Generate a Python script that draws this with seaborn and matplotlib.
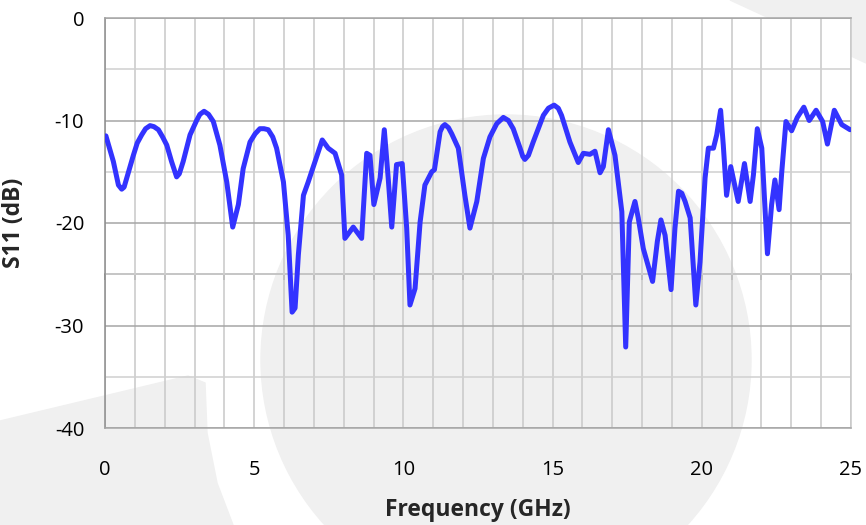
import seaborn as sns
import pandas as pd
import matplotlib.pyplot as plt
from matplotlib.patches import Ellipse, Polygon

# traced S11 curve
freq = [0.03, 0.28, 0.45, 0.56, 0.64, 0.73, 0.95, 1.08, 1.23, 1.36, 1.51, 1.64, 1.79, 1.93,
        2.07, 2.23, 2.40, 2.49, 2.62, 2.85, 3.07, 3.18, 3.32, 3.47, 3.63, 3.85, 4.08, 4.28,
        4.47, 4.63, 4.86, 5.03, 5.19, 5.33, 5.47, 5.62, 5.75, 5.98, 6.14, 6.27, 6.37,
        6.48, 6.65, 6.81, 7.04, 7.28, 7.48, 7.71, 7.93, 8.04, 8.32, 8.60, 8.77, 8.88, 9.01,
        9.22, 9.36, 9.49, 9.61, 9.77, 9.96, 10.11, 10.22, 10.39, 10.56, 10.72, 10.95, 11.04,
        11.23, 11.31, 11.39, 11.51, 11.62, 11.84, 12.06, 12.23, 12.46, 12.68, 12.90, 13.13,
        13.35, 13.52, 13.68, 13.91, 14.00, 14.07, 14.19, 14.35, 14.69, 14.86, 15.05, 15.19,
        15.30, 15.58, 15.86, 16.03, 16.25, 16.42, 16.59, 16.70,
        16.87, 17.09, 17.32, 17.45, 17.57, 17.76, 17.87, 18.04, 18.35, 18.51, 18.63, 18.77,
        18.97, 19.10, 19.22, 19.33, 19.44, 19.61, 19.80, 19.94, 20.11, 20.22, 20.39, 20.50,
        20.63, 20.72, 20.83, 20.97, 21.08, 21.22, 21.43, 21.62, 21.73, 21.86, 22.01, 22.20,
        22.34, 22.45, 22.59, 22.68, 22.82, 23.01, 23.20, 23.42, 23.60, 23.83, 24.05, 24.21,
        24.44, 24.69, 24.97]
s11 = [-11.5, -14.0, -16.3, -16.7, -16.5, -15.6, -13.4, -12.2, -11.4, -10.8, -10.5, -10.6, -10.9, -11.6,
       -12.4, -14.0, -15.5, -15.2, -14.0, -11.4, -10.0, -9.4, -9.1, -9.4, -10.1, -12.4, -16.0, -20.4,
       -18.2, -14.7, -12.1, -11.3, -10.8, -10.8, -10.9, -11.6, -12.7, -16.0, -21.2, -28.7, -28.3,
       -23.1, -17.3, -16.0, -14.0, -11.9, -12.7, -13.2, -15.3, -21.5, -20.4, -21.5, -13.2, -13.4, -18.2,
       -15.6, -10.9, -15.6, -20.4, -14.3, -14.2, -20.5, -28.0, -26.4, -19.9, -16.3, -15.0, -14.8,
       -11.1, -10.6, -10.4, -10.7, -11.3, -12.7, -17.3, -20.5, -17.9, -13.7, -11.6, -10.3,
       -9.7, -10.0, -10.8, -12.7, -13.5, -13.8, -13.4, -12.1, -9.5, -8.8, -8.5, -8.8,
       -9.5, -12.1, -14.1, -13.2, -13.3, -13.0, -15.1, -14.5,
       -10.9, -13.4, -18.9, -32.1, -19.9, -17.9, -19.5, -22.5, -25.7, -21.8, -19.7, -21.2,
       -26.5, -20.5, -16.9, -17.1, -17.9, -19.5, -28.0, -23.8, -15.6, -12.7, -12.7, -11.4,
       -9.0, -12.4, -17.3, -14.5, -16.0, -17.9, -14.2, -17.9, -15.3, -10.8, -12.7, -23.0,
       -18.2, -15.8, -18.7, -15.0, -10.1, -11.0, -9.7, -8.7, -10.0, -9.0, -10.1, -12.3,
       -9.0, -10.4, -10.9]

x_ticks = [0, 5, 10, 15, 20, 25]
y_ticks = [-40, -30, -20, -10, 0]

df = pd.DataFrame({'Frequency': freq, 'S11': s11})

sns.set_style('white')
plt.rcParams['font.family'] = ['Open Sans', 'DejaVu Sans']
plt.rcParams['axes.unicode_minus'] = False

W, H = 866, 525
fig = plt.figure(figsize=(W / 100, H / 100), dpi=100)

# light grey background decoration
bg = '#f0f0f0'
fig.add_artist(Ellipse((506 / W, 1 - 360 / H), 2 * 245 / W, 2 * 245 / H,
                       transform=fig.transFigure, color=bg, zorder=-2))
fig.add_artist(Polygon([(0, 1 - 421 / H), (188 / W, 1 - 376 / H), (205 / W, 1 - 383 / H),
                        (207 / W, 1 - 433 / H), (217 / W, 1 - 483 / H), (233 / W, 0), (0, 0)],
                       closed=True, transform=fig.transFigure, color=bg, zorder=-2))
fig.add_artist(Polygon([(730 / W, 1), (1, 1), (1, 1 - 63 / H), (851 / W, 1 - 56 / H),
                        (851 / W, 1 - 18 / H), (769 / W, 1 - 18 / H)],
                       closed=True, transform=fig.transFigure, color=bg, zorder=-2))

ax = fig.add_axes([105 / W, 1 - 428 / H, 746 / W, 410 / H])
ax.set_facecolor('none')

sns.lineplot(data=df, x='Frequency', y='S11', ax=ax, color='#3333ff', linewidth=3.6,
             solid_joinstyle='round', solid_capstyle='round', zorder=5)

ax.set_xlim(0, 25)
ax.set_ylim(-40, 0)
ax.set_xticks(x_ticks)
ax.set_xticks(range(26), minor=True)
ax.set_yticks(y_ticks)
ax.set_yticks(range(-40, 1, 5), minor=True)

ax.set_axisbelow(True)
ax.grid(axis='x', which='both', color='#c8c8c8', linewidth=1.1)
ax.grid(axis='y', which='minor', color='#d0d0d0', linewidth=1.1)
ax.grid(axis='y', which='major', color='#a6a6a6', linewidth=1.1)

ax.tick_params(axis='x', which='both', length=0, pad=23, labelsize=14.5)
ax.tick_params(axis='y', which='both', length=6, width=1.1, color='#8c8c8c',
               direction='out', pad=9, labelsize=14.5)
for lbl in ax.get_yticklabels() + ax.get_xticklabels():
    lbl.set_color('#000000')

for side in ['top', 'bottom']:
    ax.spines[side].set_color('#a6a6a6')
    ax.spines[side].set_linewidth(1.1)
ax.spines['left'].set_color('#8c8c8c')
ax.spines['left'].set_linewidth(1.1)
ax.spines['right'].set_color('#c8c8c8')
ax.spines['right'].set_linewidth(1.1)

# horizontal axis crossing at -25 dB (Excel style)
sec = ax.secondary_xaxis(15 / 40)
sec.set_xticks(range(26))
sec.set_xticklabels([])
sec.tick_params(length=4, width=1.1, color='#8c8c8c', direction='out')
sec.spines['bottom'].set_color('#8c8c8c')
sec.spines['bottom'].set_linewidth(1.1)

ax.set_xlabel('Frequency (GHz)', fontsize=16.5, fontweight='bold')
ax.set_ylabel('S11 (dB)', fontsize=16.5, fontweight='bold')
ax.xaxis.set_label_coords(0.5, -0.17)
ax.yaxis.set_label_coords(-0.106, 0.5)

fig.savefig('out.png', dpi=100)
